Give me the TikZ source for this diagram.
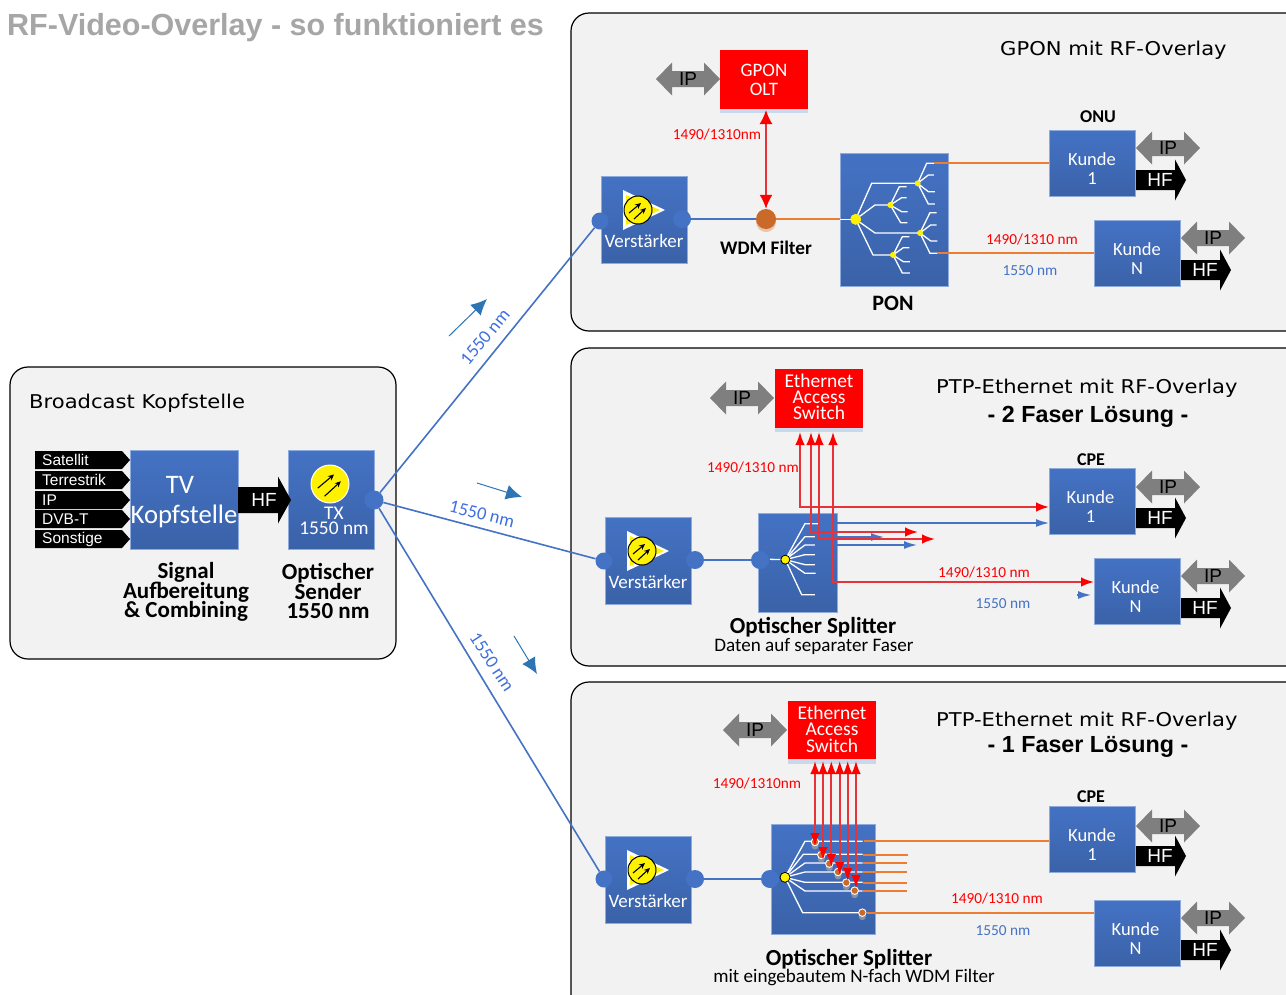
\documentclass[tikz,border=0pt]{standalone}
\usepackage{fontspec}
\setmainfont{Carlito}
\newfontfamily\arialf{Liberation Sans}
\newfontfamily\widef[FakeStretch=1.11]{DejaVu Sans}
\usetikzlibrary{arrows.meta,calc}
\AtBeginDocument{\lineskiplimit=-30pt\relax}
\definecolor{bT}{HTML}{4472C4}
\definecolor{bB}{HTML}{3A62A8}
\definecolor{bE}{HTML}{8FAADC}
\definecolor{bL}{HTML}{4472C4}
\definecolor{lamc}{HTML}{4070E0}
\definecolor{panel}{HTML}{F2F2F2}
\definecolor{org}{HTML}{ED7D31}
\definecolor{rl}{HTML}{E6333A}
\definecolor{ipg}{HTML}{7F7F7F}
\definecolor{band}{HTML}{C9D9EB}
\definecolor{ttl}{HTML}{A6A6A6}
\definecolor{wdm}{HTML}{C96A2A}
\definecolor{arr}{HTML}{2E75B6}
\tikzset{
  panelbox/.style={draw=black,line width=1.2pt,fill=panel,rounded corners=18pt},
  bluebox/.style={draw=bE,line width=.6pt,top color=bT,bottom color=bB,anchor=north west,inner sep=0pt},
  redbox/.style={fill=red,anchor=north west,inner sep=0pt},
  wtxt/.style={text=white,font=\fontsize{19}{19}\selectfont,align=center,inner sep=0pt},
  small/.style={font=\fontsize{15.3}{15.3}\selectfont,inner sep=0pt},
  redt/.style={small,text=red},
  bluet/.style={small,text=bL},
  bold/.style={font=\fontsize{23}{19.5}\selectfont\bfseries,align=center,inner sep=0pt},
  boldS/.style={font=\fontsize{18}{18}\selectfont\bfseries,inner sep=0pt},
  caption/.style={font=\fontsize{19.1}{19}\selectfont,inner sep=0pt},
  ptitle/.style={font=\fontsize{19}{19}\selectfont\widef,inner sep=0pt,anchor=west},
  psub/.style={font=\fontsize{23.3}{23}\selectfont\arialf\bfseries,inner sep=0pt},
  port/.style={circle,fill=bL,inner sep=0pt},
  bline/.style={draw=bL,line width=1.6pt},
  oline/.style={draw=org,line width=1.9pt},
  rline/.style={draw=rl,line width=1.8pt},
  tree/.style={draw=white,line width=1.3pt},
  rboth/.style={{Latex[length=13pt,width=9.5pt,color=red]}-{Latex[length=13pt,width=9.5pt,color=red]}},
  rbig/.style={{Latex[length=14pt,width=13pt,color=red]}-{Latex[length=14pt,width=13pt,color=red]}},
  btip/.style={-{Latex[length=13pt,width=8pt,color=bL]}},
  rootdot/.style={circle,fill=yellow,draw=black,line width=.8pt,inner sep=0pt,minimum size=9pt},
  ydot/.style={circle,fill=yellow,inner sep=0pt},
  hint/.style={draw=arr,line width=1pt,-{Latex[length=16pt,width=15pt]}},
  lam/.style={text=lamc,font=\fontsize{18.5}{18.5}\selectfont,inner sep=0pt},
}
% IP double arrow
\newcommand\myip[3]{%
  \fill[ipg,shift={(#2,#3)}] (-32,0)--(-16,-16.5)--(-16,-8)--(16,-8)--(16,-16.5)--(32,0)--(16,16.5)--(16,8)--(-16,8)--(-16,16.5)--cycle;
  \node[inner sep=0pt,text=black,font=\fontsize{19}{19}\selectfont\arialf] (#1) at (#2,#3) {IP};}
% HF arrow: name,left,centre y,length,shaft half,head back,head half,text x offset
\newcommand\myhf[8]{%
  \fill[black,shift={(#2,#3)}] (0,-#5)--(#6,-#5)--(#6,-#7)--(#4,0)--(#6,#7)--(#6,#5)--(0,#5)--cycle;
  \node[inner sep=0pt,text=white,font=\fontsize{19}{19}\selectfont\arialf] (#1) at ($(#2,#3)+(#8,0)$) {HF};}
% Kunde box with IP and HF
\newcommand\kunde[6]{% name,x,y,second line,ipy-offset,text x-offset
  \node[bluebox,minimum width=86pt,minimum height=66pt] (#1) at (#2,#3) {};
  \node[wtxt,font=\fontsize{18.5}{19}\selectfont] (#1t) at ($(#2,#3)+(#6,38.5)$) {Kunde\\#4};
  \myip{#1ip}{\the\numexpr#2+119\relax}{\the\numexpr#3+#5\relax}
  \myhf{#1hf}{\the\numexpr#2+87\relax}{\the\numexpr#3+50\relax}{50}{10}{39}{20.5}{24}}
% yellow laser symbol
\newcommand\laser[5]{% name,x,y,radius,edge
  \node[circle,fill=yellow,draw=#5,line width=1pt,minimum size=#4*2pt,inner sep=0pt] (#1) at (#2,#3) {};
  \begin{scope}[shift={(#2,#3)},scale=#4/14]
    \draw[black,line width=1.1pt,-{Stealth[length=6pt,width=5.5pt]}] (-9,3)--(3,-7);
    \draw[black,line width=1.1pt,-{Stealth[length=6pt,width=5.5pt]}] (-4,9)--(8,-2);
  \end{scope}}
% amplifier block
\newcommand\myamp[7]{% name,x,y,lport x off,rport x off,lport y off,rport y off
  \node[bluebox,minimum width=86pt,minimum height=87pt] (#1) at (#2,#3) {};
  \begin{scope}[shift={(#2,#3)}]
    \fill[white] (22,14)--(22,54)--(64,34)--cycle;
    \fill[yellow] (25,19)--(25,49)--(59,34)--cycle;
  \end{scope}
  \laser{#1s}{\the\numexpr#2+37\relax}{\the\numexpr#3+34\relax}{14}{black}
  \node[wtxt] (#1t) at ($(#2,#3)+(43,64.5)$) {Verstärker};
  \node[port,minimum size=17pt] (#1l) at ($(#2,#3)+(#4,#6)$) {};
  \node[port,minimum size=18pt] (#1r) at ($(#2,#3)+(#5,#7)$) {};}
\newcommand\smalllabel[3]{%
  \node[anchor=west,inner sep=0pt,text=white,font=\fontsize{15.5}{15.5}\selectfont\arialf] (#1) at (#2,#3) {#1};}
\begin{document}
\begin{tikzpicture}[x=1pt,y=-1pt]
\useasboundingbox (0,0) rectangle (1286,994);
\clip (0,0) rectangle (1286,994);
\fill[white] (0,0) rectangle (1286,994);
% ---------- title
\node[anchor=west,inner sep=0pt,text=ttl,font=\fontsize{30.5}{30.5}\selectfont\arialf\bfseries] (title) at (7,28) {RF-Video-Overlay - so funktioniert es};
% ---------- panels
\draw[panelbox] (571,13) rectangle (1310,331);
\draw[panelbox] (571,348) rectangle (1310,666);
\draw[panelbox] (571,682) rectangle (1310,1020);
\draw[panelbox] (10,367) rectangle (396,659);
\node[ptitle] (t0) at (29,403) {Broadcast Kopfstelle};
\node[ptitle] (t1) at (1000,50) {GPON mit RF-Overlay};
\node[ptitle] (t2) at (936,388) {PTP-Ethernet mit RF-Overlay};
\node[ptitle] (t3) at (936,721) {PTP-Ethernet mit RF-Overlay};
\node[psub] (s2) at (1088,417) {- 2 Faser Lösung -};
\node[psub] (s3) at (1088,747) {- 1 Faser Lösung -};
% ---------- head-end
\foreach \yy/\lab in {460/Satellit,480/Terrestrik,500/IP,519/DVB-T,539/Sonstige}{
  \fill[black,shift={(35,\yy)}] (0,-9)--(87,-9)--(95,0)--(87,9)--(0,9)--cycle;
  \smalllabel{\lab}{42}{\yy}
}
\node[bluebox,minimum width=108pt,minimum height=99pt] (tv) at (130,450) {};
\node[wtxt,font=\fontsize{26.7}{26.7}\selectfont] (tvt1) at (180,485) {TV};
\node[wtxt,font=\fontsize{26.7}{26.7}\selectfont] (tvt2) at (184,516) {Kopfstelle};
\node[bluebox,minimum width=86pt,minimum height=99pt] (tx) at (288,450) {};
\myhf{mainhf}{238}{500}{53}{13}{40}{23.5}{26}
\laser{txs}{330}{484}{19}{white}
\node[wtxt,font=\fontsize{19.4}{15.5}\selectfont] (txt) at (334,521) {TX\\1550 nm};
\node[port,minimum size=19pt] (txp) at (374,500) {};
\node[bold] (lb1) at (186,592) {Signal\\Aufbereitung\\\&\ Combining};
\node[bold] (lb2) at (328,591) {Optischer\\Sender\\1550 nm};
% ---------- amplifiers
\myamp{va}{601}{176}{-1}{81}{45}{43}
\myamp{vb}{605}{517}{-1}{90}{44}{43}
\myamp{vc}{605}{836}{-1}{90}{43}{43}
% ---------- feeder fibres
\draw[bline] (txp) -- (val);
\draw[bline] (txp) -- (vbl);
\draw[bline] (txp) -- (vcl);
\node[lam,rotate=50] (l1) at (485,337) {1550 nm};
\node[lam,rotate=-14] (l2) at (482,514) {1550 nm};
\node[lam,rotate=-57] (l3) at (492,662) {1550 nm};
\coordinate (h1a) at (449,336); \coordinate (h1b) at (487,299);
\coordinate (h2a) at (477,483); \coordinate (h2b) at (522,497);
\coordinate (h3a) at (514,636); \coordinate (h3b) at (537,674);
\draw[hint] (h1a) -- (h1b);
\draw[hint] (h2a) -- (h2b);
\draw[hint] (h3a) -- (h3b);
% ---------- panel 1
\fill[band] (720,105) rectangle (808,113);
\node[redbox,minimum width=88pt,minimum height=59pt] (olt) at (720,50) {};
\node[wtxt,font=\fontsize{19}{19}\selectfont] (oltt) at (764,80) {GPON\\OLT};
\myip{ipa}{688}{79}
\node[redt] (r1) at (717,135) {1490/1310nm};
\node[circle,fill=wdm!40,inner sep=0pt,minimum size=20pt] (wdms) at (766,222) {};
\node[circle,fill=wdm,inner sep=0pt,minimum size=20pt] (wdmf) at (766,219) {};
\node[bold,font=\fontsize{19.2}{19}\selectfont\bfseries] (wdmt) at (766,248) {WDM Filter};
\node[bluebox,minimum width=108pt,minimum height=133pt] (pon) at (840,153) {};
\node[bold,font=\fontsize{22}{22}\selectfont\bfseries] (pont) at (893,303) {PON};
\coordinate (oltb) at (766,110);
\draw[rline,rbig] (oltb) -- (wdmf.north);
\draw[bline] (var) -- (wdmf);
\draw[oline] (wdmf) -- (pon.west |- wdmf);
\begin{scope}[shift={(830,145)},x=.3333pt,y=-.3333pt]
  \draw[tree] (30,223)--(77,223);
  \draw[tree] (77,223)--(125,115)--(263,115);
  \draw[tree] (77,223)--(135,180)--(181,180);
  \draw[tree] (77,223)--(135,264)--(270,264);
  \draw[tree] (77,223)--(129,330)--(189,330);
  \draw[tree] (263,115)--(290,55)--(312,55) (263,115)--(295,90)--(312,90) (263,115)--(295,140)--(315,140) (263,115)--(295,177)--(315,177);
  \draw[tree] (181,180)--(208,125)--(230,125) (181,180)--(215,158)--(230,158) (181,180)--(215,200)--(233,200) (181,180)--(212,233)--(232,233);
  \draw[tree] (270,264)--(300,203)--(320,203) (270,264)--(302,240)--(320,240) (270,264)--(302,288)--(322,288) (270,264)--(300,325)--(322,325);
  \draw[tree] (189,330)--(217,275)--(238,275) (189,330)--(220,308)--(238,308) (189,330)--(220,350)--(240,350) (189,330)--(217,384)--(240,384);
  \node[ydot,minimum size=11pt] (pr) at (77,223) {};
  \node[ydot,minimum size=6pt] (pa) at (263,115) {};
  \node[ydot,minimum size=6pt] (pb) at (181,180) {};
  \node[ydot,minimum size=6pt] (pc) at (270,264) {};
  \node[ydot,minimum size=6pt] (pd) at (189,330) {};
  \coordinate (pk1) at (312,55);
  \coordinate (pkn) at (322,325);
\end{scope}
\kunde{ka}{1049}{130}{1}{18}{43}
\kunde{kb}{1094}{220}{N}{18}{43}
\draw[oline] (pk1) -- (pk1 -| ka.west);
\draw[oline] (pkn) -- (pkn -| kb.west);
\node[boldS] (onu) at (1098,117) {ONU};
\node[redt] (r1b) at (1032,240) {1490/1310 nm};
\node[bluet] (b1b) at (1030,271) {1550 nm};
% ---------- panel 2
\fill[band] (775,424) rectangle (863,432);
\node[redbox,minimum width=88pt,minimum height=59pt] (sw2) at (775,369) {};
\node[wtxt,font=\fontsize{19.5}{16}\selectfont] (sw2t) at (819,397) {Ethernet\\Access\\Switch};
\myip{ipb}{742}{398}
\node[redt] (r2) at (753,468) {1490/1310 nm};
\node[bluebox,minimum width=79pt,minimum height=99pt] (sp2) at (758,513) {};
\node[port,minimum size=18pt] (sp2p) at (760,560) {};
\draw[bline] (vbr) -- (sp2p);
\begin{scope}[shift={(700,420)},x=.3333pt,y=-.3333pt]
  \draw[tree] (210,418)--(256,419);
  \draw[tree] (256,419)--(315,311)--(355,311);
  \draw[tree] (256,419)--(315,350)--(345,350);
  \draw[tree] (256,419)--(315,375)--(345,375);
  \draw[tree] (256,419)--(315,404)--(345,404);
  \draw[tree] (256,419)--(315,434)--(345,434);
  \draw[tree] (256,419)--(315,460)--(347,460);
  \draw[tree] (256,419)--(305,524)--(345,524);
  \node[rootdot] (sp2r) at (256,419) {};
\end{scope}
\kunde{kc}{1049}{468}{1}{19}{41.5}
\kunde{kd}{1094}{558}{N}{18}{41.5}
% blue return fibres
\coordinate (g1) at (837,523);
\coordinate (g2) at (837,537); \coordinate (g2e) at (884,537);
\coordinate (g3) at (837,545); \coordinate (g3e) at (917,545);
\draw[bline,btip] (g1) -- (g1 -| kc.west);
\draw[bline,btip] (g2) -- (g2e);
\draw[bline,btip] (g3) -- (g3e);
\coordinate (g4) at (1077,595); \coordinate (g4e) at (1091,595);
\draw[bline,btip] (g4) -- (g4e);
% red fibres
\coordinate (u1) at (800,432); \coordinate (u1c) at (800,507);
\coordinate (u2) at (811,432); \coordinate (u2c) at (811,532); \coordinate (u2e) at (918,532);
\coordinate (u3) at (819,432); \coordinate (u3c) at (819,539); \coordinate (u3e) at (935,539);
\coordinate (u4) at (833,432); \coordinate (u4c) at (833,582);
\draw[rline,rboth] (u1) -- (u1c) -- (u1c -| kc.west);
\draw[rline,rboth] (u2) -- (u2c) -- (u2e);
\draw[rline,rboth] (u3) -- (u3c) -- (u3e);
\draw[rline,rboth] (u4) -- (u4c) -- (u4c -| kd.west);
\node[boldS] (cpe1) at (1091,460) {CPE};
\node[redt] (r2b) at (984,573) {1490/1310 nm};
\node[bluet] (b2b) at (1003,604) {1550 nm};
\node[bold] (sp2a) at (813,627.5) {Optischer Splitter};
\node[caption] (sp2b) at (814,646) {Daten auf separater Faser};
% ---------- panel 3
\fill[band] (788,756) rectangle (876,764);
\node[redbox,minimum width=88pt,minimum height=58pt] (sw3) at (788,701) {};
\node[wtxt,font=\fontsize{19.5}{16.3}\selectfont] (sw3t) at (832,729) {Ethernet\\Access\\Switch};
\myip{ipc}{755}{730}
\node[redt] (r3) at (757,784) {1490/1310nm};
\node[bluebox,minimum width=104pt,minimum height=110pt] (sp3) at (771,824) {};
\node[port,minimum size=18pt] (sp3p) at (770,879) {};
\draw[bline] (vcr) -- (sp3p);
\kunde{ke}{1049}{806}{1}{20}{43}
\kunde{kf}{1094}{900}{N}{18}{41.5}
\begin{scope}[shift={(740,750)},x=.3333pt,y=-.3333pt]
  \draw[tree] (135,382)--(195,274)--(368,274);
  \draw[tree] (135,382)--(190,313)--(368,313);
  \draw[tree] (135,382)--(195,339)--(368,339);
  \draw[tree] (135,382)--(195,366)--(368,366);
  \draw[tree] (135,382)--(195,397)--(368,397);
  \draw[tree] (135,382)--(195,423)--(368,423);
  \draw[tree] (135,382)--(188,488)--(368,488);
  \coordinate (f1) at (372,272);
  \coordinate (f2) at (368,314); \coordinate (f2e) at (505,314);
  \coordinate (f3) at (368,339); \coordinate (f3e) at (500,339);
  \coordinate (f4) at (368,367); \coordinate (f4e) at (500,367);
  \coordinate (f5) at (368,398); \coordinate (f5e) at (500,398);
  \coordinate (f6) at (368,424); \coordinate (f6e) at (500,424);
  \foreach \n/\cx/\cy in {a/225/276,b/244/315,c/268/341,d/294/366,e/319/398,f/344/422,g/367/488}{
    \fill[black!35,opacity=.7] (\cx,\cy+12) circle (3.5pt);
    \node[circle,fill=wdm,draw=white,line width=.9pt,inner sep=0pt,minimum size=7.5pt] (d\n) at (\cx,\cy) {};
  }
  \node[rootdot,minimum size=10pt] (sp3r) at (135,382) {};
\end{scope}
\draw[oline] (f1) -- (f1 -| ke.west);
\draw[oline] (f2) -- (f2e);
\draw[oline] (f3) -- (f3e);
\draw[oline] (f4) -- (f4e);
\draw[oline] (f5) -- (f5e);
\draw[oline] (f6) -- (f6e);
\draw[oline] (dg) -- (dg -| kf.west);
\foreach \n/\xx/\yy in {1/815/846,2/823/860,3/831.3/867,4/839.7/875,5/847.7/881,6/856/888}{
  \coordinate (w\n t) at (\xx,761);
  \coordinate (w\n b) at (\xx,\yy);
  \draw[rline,rboth] (w\n t) -- (w\n b);
}
\node[boldS] (cpe2) at (1091,797) {CPE};
\node[redt] (r3b) at (997,899) {1490/1310 nm};
\node[bluet] (b3b) at (1003,931) {1550 nm};
\node[bold] (sp3a) at (849,959.5) {Optischer Splitter};
\node[caption] (sp3b) at (854,977) {mit eingebautem N-fach WDM Filter};
\end{tikzpicture}
\end{document}
